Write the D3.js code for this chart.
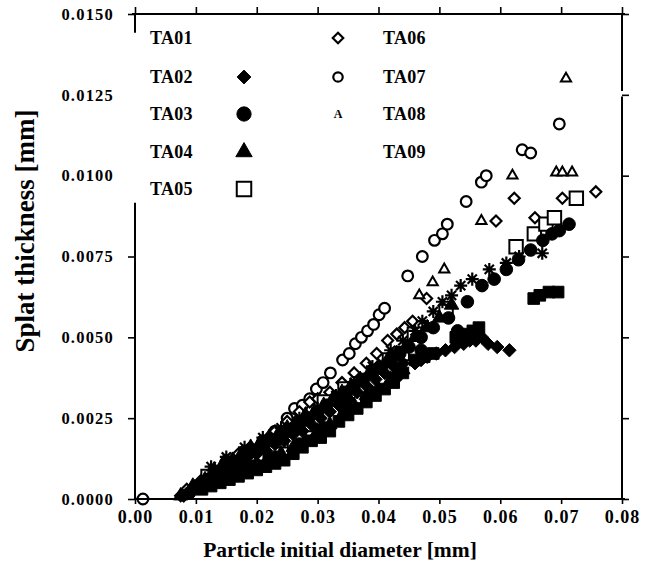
<!DOCTYPE html>
<html><head><meta charset="utf-8">
<script src="https://cdn.jsdelivr.net/npm/d3@7"></script>
<style>
html,body{margin:0;padding:0;background:#fff;}
svg text{font-family:"Liberation Serif","Times New Roman",serif;fill:#000;}
</style></head>
<body><svg id="c" width="652" height="568"></svg>
<script>
// ---------- data (x = particle initial diameter [mm], y = splat thickness [mm]) ----------
const xTicks = [0,0.01,0.02,0.03,0.04,0.05,0.06,0.07,0.08];
const yTicks = [0,0.0025,0.005,0.0075,0.01,0.0125,0.015];

const ta01 = [[0.0125,0.0010],[0.015,0.0013],[0.018,0.0016],[0.021,0.0019],[0.024,0.0022],[0.027,0.0025],[0.030,0.0028],[0.033,0.0032],[0.036,0.0036],[0.039,0.0041],[0.042,0.0046],[0.044,0.0049],[0.046,0.0052],[0.0472,0.0055],[0.049,0.0058],[0.0505,0.0061],[0.052,0.0063],[0.0535,0.0066],[0.0554,0.0068],[0.0582,0.0071],[0.061,0.0073],[0.0631,0.0075],[0.0669,0.0076]];
const ta02 = [[0.008,0.0001],[0.0095,0.0003],[0.011,0.0005],[0.0125,0.0006],[0.014,0.0008],[0.0155,0.0010],[0.017,0.0011],[0.0185,0.0013],[0.020,0.0014],[0.0215,0.0015],[0.023,0.0017],[0.0245,0.0018],[0.026,0.0020],[0.0275,0.0021],[0.029,0.0023],[0.0305,0.0025],[0.032,0.0027],[0.0335,0.0029],[0.035,0.0031],[0.0365,0.0033],[0.038,0.0035],[0.0395,0.0037],[0.041,0.0039],[0.0425,0.0041],[0.044,0.0042],[0.046,0.0042],[0.047,0.0043],[0.048,0.0044],[0.0495,0.0045],[0.051,0.0046],[0.0525,0.0047],[0.054,0.0048],[0.055,0.0049],[0.056,0.0049],[0.057,0.0050],[0.058,0.0048],[0.0595,0.0047],[0.0615,0.0046]];
const ta03 = [[0.009,0.0002],[0.0105,0.0004],[0.012,0.0006],[0.0135,0.0008],[0.015,0.0010],[0.0165,0.0011],[0.018,0.0013],[0.0195,0.0015],[0.021,0.0016],[0.0225,0.0018],[0.024,0.0019],[0.0255,0.0021],[0.027,0.0023],[0.0285,0.0025],[0.030,0.0027],[0.0315,0.0029],[0.033,0.0031],[0.0345,0.0033],[0.036,0.0035],[0.0375,0.0037],[0.039,0.0039],[0.0405,0.0041],[0.042,0.0043],[0.0435,0.0045],[0.045,0.0047],[0.047,0.0050],[0.049,0.0053],[0.0515,0.0056],[0.053,0.0052],[0.0546,0.0061],[0.057,0.0066],[0.059,0.0068],[0.061,0.0071],[0.063,0.0074],[0.065,0.0077],[0.067,0.0080],[0.0685,0.0082],[0.0697,0.0083],[0.0713,0.0085],
  [0.019,0.0010],[0.023,0.0013],[0.027,0.0017],[0.031,0.0022],[0.035,0.0027],[0.039,0.0033],[0.043,0.0038],[0.047,0.0046]];
const ta04 = [[0.0075,0.0001],[0.0095,0.0004],[0.0115,0.0006],[0.013,0.0009],[0.0145,0.0011],[0.016,0.0012],[0.0175,0.0014],[0.019,0.0016],[0.0205,0.0017],[0.022,0.0019],[0.0235,0.0020],[0.025,0.0022],[0.0265,0.0024],[0.028,0.0026],[0.0295,0.0027],[0.031,0.0029],[0.0325,0.0031],[0.034,0.0033],[0.0355,0.0035],[0.037,0.0037],[0.0385,0.0039],[0.040,0.0041],[0.0415,0.0043],[0.043,0.0045],[0.0445,0.0047],[0.046,0.0050],[0.048,0.0053],[0.050,0.0056],[0.052,0.0060],
  [0.012,0.0005],[0.014,0.0006],[0.016,0.0008],[0.018,0.0009],[0.020,0.0011],[0.022,0.0013],[0.024,0.0014],[0.026,0.0016],[0.028,0.0018],[0.030,0.0021],[0.032,0.0023],[0.034,0.0026],[0.036,0.0029],[0.038,0.0032],[0.040,0.0034],[0.042,0.0037],[0.044,0.0040]];
const ta05 = [[0.012,0.0007],[0.016,0.0011],[0.020,0.0014],[0.024,0.0018],[0.028,0.0023],[0.0311,0.0030],[0.0345,0.0034],[0.0418,0.0043],[0.0439,0.0045],[0.0459,0.0051],[0.0511,0.0058],[0.0626,0.0078],[0.0656,0.0082],[0.0675,0.0085],[0.0689,0.0087],[0.0725,0.0093]];
const ta06 = [[0.0075,0.0001],[0.0085,0.0003],[0.0098,0.0004],[0.011,0.0006],[0.013,0.0009],[0.015,0.0012],[0.017,0.0014],[0.019,0.0016],[0.021,0.0018],[0.023,0.0021],[0.025,0.0024],[0.027,0.0027],[0.0287,0.0030],[0.030,0.0031],[0.032,0.0033],[0.034,0.0036],[0.036,0.0039],[0.038,0.0042],[0.0397,0.0045],[0.0415,0.0049],[0.043,0.0051],[0.0443,0.0053],[0.0456,0.0055],[0.0479,0.0062],[0.0593,0.0086],[0.0623,0.0093],[0.0657,0.0087],[0.0702,0.0093],[0.0757,0.0095]];
const ta07 = [[0.0013,0.0000],[0.021,0.0018],[0.023,0.0021],[0.025,0.0025],[0.0262,0.0028],[0.0275,0.0029],[0.0287,0.0031],[0.0298,0.0034],[0.0309,0.0036],[0.0321,0.0039],[0.0341,0.0043],[0.0352,0.0045],[0.0362,0.0048],[0.0372,0.0050],[0.0382,0.0052],[0.0392,0.0054],[0.0401,0.0057],[0.041,0.0059],[0.0448,0.0069],[0.0472,0.0075],[0.0492,0.0080],[0.0505,0.0082],[0.0513,0.0085],[0.0544,0.0092],[0.0569,0.0098],[0.0577,0.0100],[0.0636,0.0108],[0.065,0.0107],[0.0697,0.0116]];
const ta08 = [[0.020,0.0016],[0.030,0.0027],[0.040,0.0040],[0.0467,0.0063],[0.0489,0.0067],[0.0508,0.0071],[0.0569,0.0086],[0.062,0.0100],[0.0692,0.0101],[0.0702,0.0101],[0.0718,0.0101],[0.0708,0.0130]];
const ta09 = [[0.011,0.0003],[0.0125,0.0004],[0.014,0.0005],[0.0155,0.0006],[0.017,0.0007],[0.0185,0.0008],[0.020,0.0009],[0.0215,0.0010],[0.023,0.0011],[0.0245,0.0012],[0.026,0.0014],[0.0275,0.0016],[0.029,0.0018],[0.0305,0.0019],[0.032,0.0021],[0.0335,0.0024],[0.0345,0.0029],[0.035,0.0026],[0.0365,0.0028],[0.038,0.0030],[0.0395,0.0032],[0.041,0.0034],[0.0425,0.0036],[0.044,0.0039],[0.046,0.0043],[0.0475,0.0044],[0.049,0.0045],[0.0527,0.0050],[0.054,0.0051],[0.0555,0.0052],[0.0565,0.0053],[0.0655,0.0062],[0.0665,0.0063],[0.068,0.0064],[0.0695,0.0064]];

const seriesNames = ["TA01","TA02","TA03","TA04","TA05","TA06","TA07","TA08","TA09"];
const seriesData  = [ta01,ta02,ta03,ta04,ta05,ta06,ta07,ta08,ta09];

// ---------- layout ----------
const svg = d3.select("#c");
const x = d3.scaleLinear().domain([0,0.08]).range([135,622]);
const y = d3.scaleLinear().domain([0,0.015]).range([499,14]);

const symbolRhomb = {draw(ctx,size){const r=Math.sqrt(size/2);ctx.moveTo(0,-r);ctx.lineTo(r,0);ctx.lineTo(0,r);ctx.lineTo(-r,0);ctx.closePath();}};
const symbolStar8 = {draw(ctx,size){const r=Math.sqrt(size)/2;for(let i=0;i<4;i++){const a=i*Math.PI/4;ctx.moveTo(-r*Math.cos(a),-r*Math.sin(a));ctx.lineTo(r*Math.cos(a),r*Math.sin(a));}}};

const style = {
  TA01:{type:symbolStar8,size:170,fill:"none",stroke:"#000",sw:2.2},
  TA02:{type:symbolRhomb,size:90,fill:"#000",stroke:"#000",sw:1},
  TA03:{type:d3.symbolCircle,size:125,fill:"#000",stroke:"#000",sw:1},
  TA04:{type:d3.symbolTriangle,size:90,fill:"#000",stroke:"#000",sw:1},
  TA05:{type:d3.symbolSquare,size:180,fill:"#fff",stroke:"#000",sw:2},
  TA06:{type:symbolRhomb,size:60,fill:"#fff",stroke:"#000",sw:2.2},
  TA07:{type:d3.symbolCircle,size:90,fill:"#fff",stroke:"#000",sw:2.2},
  TA08:{type:d3.symbolTriangle,size:45,fill:"#fff",stroke:"#000",sw:2},
  TA09:{type:d3.symbolSquare,size:135,fill:"#000",stroke:"#000",sw:1}
};

const order = ["TA07","TA06","TA05","TA08","TA09","TA02","TA04","TA03","TA01"];
const plot = svg.append("g");
order.forEach(name=>{
  const st = style[name];
  const data = seriesData[seriesNames.indexOf(name)];
  plot.append("g").selectAll("path").data(data).join("path")
    .attr("transform",d=>`translate(${x(d[0])},${y(d[1])})`)
    .attr("d",d3.symbol().type(st.type).size(st.size))
    .attr("fill",st.fill).attr("stroke",st.stroke).attr("stroke-width",st.sw);
});

// ---------- axes ----------
const axisW = 2;
const gB = svg.append("g").attr("transform",`translate(0,${y(0)})`)
  .call(d3.axisBottom(x).tickValues(xTicks).tickFormat(d3.format(".2f")).tickSize(5).tickPadding(4));
const gT = svg.append("g").attr("transform",`translate(0,${y(0.015)})`)
  .call(d3.axisTop(x).tickValues(xTicks).tickFormat("").tickSize(7));
const gL = svg.append("g").attr("transform",`translate(${x(0)},0)`)
  .call(d3.axisLeft(y).tickValues(yTicks).tickFormat(d3.format(".4f")).tickSize(7).tickPadding(14));
const gR = svg.append("g").attr("transform",`translate(${x(0.08)},0)`)
  .call(d3.axisRight(y).tickValues(yTicks).tickFormat("").tickSize(7));

[gB,gT,gL,gR].forEach(g=>{
  g.select(".domain").remove();
  g.selectAll(".tick line").attr("stroke","#000").attr("stroke-width",1.6);
});
gL.selectAll(".tick").filter(d=>d===0.01||d===0.0125).select("line").remove();

gB.selectAll(".tick text").attr("font-size",18).attr("font-weight","bold").attr("letter-spacing",1).attr("dy","0.85em");
gL.selectAll(".tick text").attr("font-size",16.5).attr("font-weight","bold").attr("letter-spacing",1.2);

const frame = svg.append("g").attr("stroke","#000").attr("stroke-width",axisW).attr("fill","none");
frame.append("line").attr("x1",x(0)).attr("x2",x(0.08)+3).attr("y1",y(0)).attr("y2",y(0));
frame.append("line").attr("x1",x(0)-3).attr("x2",x(0.08)+3).attr("y1",y(0.015)).attr("y2",y(0.015));
frame.append("line").attr("x1",x(0)).attr("x2",x(0)).attr("y1",y(0.015)).attr("y2",y(0.01442));
frame.append("line").attr("x1",x(0)).attr("x2",x(0)).attr("y1",y(0.00916)).attr("y2",y(0));
frame.append("line").attr("x1",x(0.08)).attr("x2",x(0.08)).attr("y1",y(0.015)).attr("y2",y(0.01262));
frame.append("line").attr("x1",x(0.08)).attr("x2",x(0.08)).attr("y1",y(0.01245)).attr("y2",y(0));

// ---------- legend ----------
const leg = svg.append("g");
const legRows = [
  {name:"TA01",tx:150,sx:244,cy:38},
  {name:"TA02",tx:150,sx:244,cy:77},
  {name:"TA03",tx:150,sx:244,cy:114},
  {name:"TA04",tx:150,sx:244,cy:152},
  {name:"TA05",tx:150,sx:244,cy:189},
  {name:"TA06",tx:383,sx:338,cy:38},
  {name:"TA07",tx:383,sx:338,cy:77},
  {name:"TA08",tx:383,sx:338,cy:114},
  {name:"TA09",tx:383,sx:338,cy:152}
];
const legSym = {
  TA02:{type:symbolRhomb,size:95,fill:"#000",sw:1},
  TA03:{type:d3.symbolCircle,size:160,fill:"#000",sw:1},
  TA04:{type:d3.symbolTriangle,size:115,fill:"#000",sw:1},
  TA05:{type:d3.symbolSquare,size:210,fill:"#fff",sw:2},
  TA06:{type:symbolRhomb,size:55,fill:"#fff",sw:2.2},
  TA07:{type:d3.symbolCircle,size:70,fill:"#fff",sw:2.2}
};
legRows.forEach(r=>{
  leg.append("text").attr("x",r.tx).attr("y",r.cy).attr("dy","0.35em")
    .attr("font-size",18).attr("font-weight","bold").attr("letter-spacing",0.3).text(r.name);
  const s = legSym[r.name];
  if(s){
    leg.append("path").attr("transform",`translate(${r.sx},${r.cy})`)
      .attr("d",d3.symbol().type(s.type).size(s.size))
      .attr("fill",s.fill).attr("stroke","#000").attr("stroke-width",s.sw);
  } else if(r.name==="TA08"){
    leg.append("text").attr("x",r.sx).attr("y",r.cy).attr("dy","0.35em").attr("text-anchor","middle")
      .attr("font-size",12).attr("font-weight","bold").text("A");
  }
});

// ---------- axis titles ----------
svg.append("text").attr("x",340).attr("y",557).attr("text-anchor","middle")
  .attr("font-size",21.5).attr("font-weight","bold").text("Particle initial diameter [mm]");
svg.append("text").attr("transform","translate(34,231) rotate(-90)").attr("text-anchor","middle")
  .attr("font-size",27).attr("font-weight","bold").text("Splat thickness [mm]");
</script></body></html>
